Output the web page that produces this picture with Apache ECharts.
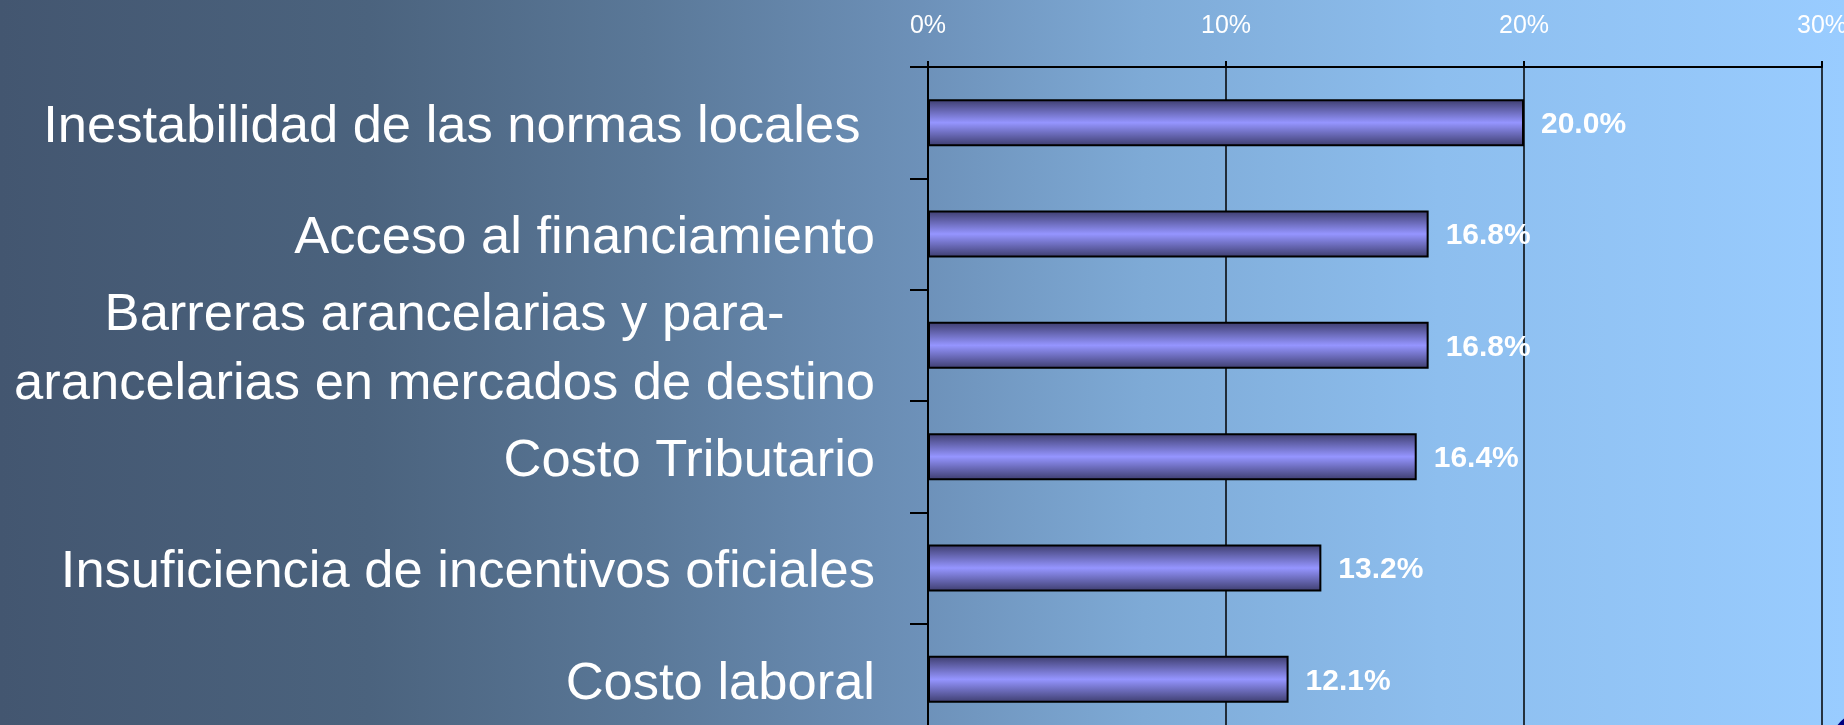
<!DOCTYPE html>
<html>
<head>
<meta charset="utf-8">
<script src="https://cdn.jsdelivr.net/npm/echarts@6/dist/echarts.min.js"></script>
<style>
html,body{margin:0;padding:0;overflow:hidden;}
#chart{width:1844px;height:725px;background:linear-gradient(to right,#435670 0%,#4b637e 20%,#5a7898 35%,#6d91b9 50%,#7eaad6 62%,#8dbeee 78%,#99ccff 100%);}
</style>
</head>
<body>
<div id="chart"></div>
<script>
const categories = [
  'Inestabilidad de las normas locales ',
  'Acceso al financiamiento',
  'Barreras arancelarias y para-\narancelarias en mercados de destino',
  'Costo Tributario',
  'Insuficiencia de incentivos oficiales',
  'Costo laboral'
];
const values = [20.0, 16.8, 16.8, 16.4, 13.2, 12.1];
const axisMin = 0, axisMax = 30, axisStep = 10;

const chart = echarts.init(document.getElementById('chart'), null, {renderer: 'canvas'});
const labelFont = '"Liberation Sans", Arial, sans-serif';
chart.setOption({
  backgroundColor: 'transparent',
  animation: false,
  grid: {left: 928, top: 67, width: 894, height: 668, containLabel: false, outerBoundsMode: 'none'},
  xAxis: {
    type: 'value', position: 'top', min: axisMin, max: axisMax, interval: axisStep,
    axisLine: {show: true, lineStyle: {color: '#000', width: 2}},
    axisTick: {show: true, length: 6, lineStyle: {color: '#000', width: 2}},
    splitLine: {show: true, lineStyle: {color: '#000', width: 1.5}},
    axisLabel: {color: '#fff', fontSize: 25, fontFamily: labelFont, margin: 28, formatter: '{value}%'}
  },
  yAxis: {
    type: 'category', inverse: true, data: categories,
    axisLine: {show: true, lineStyle: {color: '#000', width: 2}},
    axisTick: {show: true, length: 18, lineStyle: {color: '#000', width: 2}},
    splitLine: {show: false},
    axisLabel: {
      color: '#fff', fontSize: 52.5, fontFamily: labelFont, margin: 53, padding: [10, 0, 0, 0],
      formatter: function (v) {
        if (v.indexOf('\n') >= 0) {
          return v.split('\n').map(s => '{c|' + s + '}').join('\n');
        }
        return v;
      },
      rich: {c: {align: 'center', fontSize: 52.5, fontFamily: labelFont, color: '#fff', lineHeight: 69}}
    }
  },
  series: [{
    type: 'bar', data: values, barWidth: 47,
    itemStyle: {
      borderColor: '#000', borderWidth: 2,
      color: new echarts.graphic.LinearGradient(0, 0, 0, 1, [
        {offset: 0, color: '#3c3c6c'},
        {offset: 0.5, color: '#9595ff'},
        {offset: 1, color: '#3c3c6c'}
      ])
    },
    label: {
      show: true, position: 'right', distance: 17, offset: [0, 2],
      color: '#fff', fontWeight: 'bold', fontSize: 30, fontFamily: labelFont,
      formatter: p => p.value.toFixed(1) + '%'
    }
  }],
  graphic: [{
    type: 'circle', shape: {cx: 1880, cy: 760, r: 55}, style: {fill: '#000080'}, silent: true, z: 100
  }]
});
</script>
</body>
</html>
